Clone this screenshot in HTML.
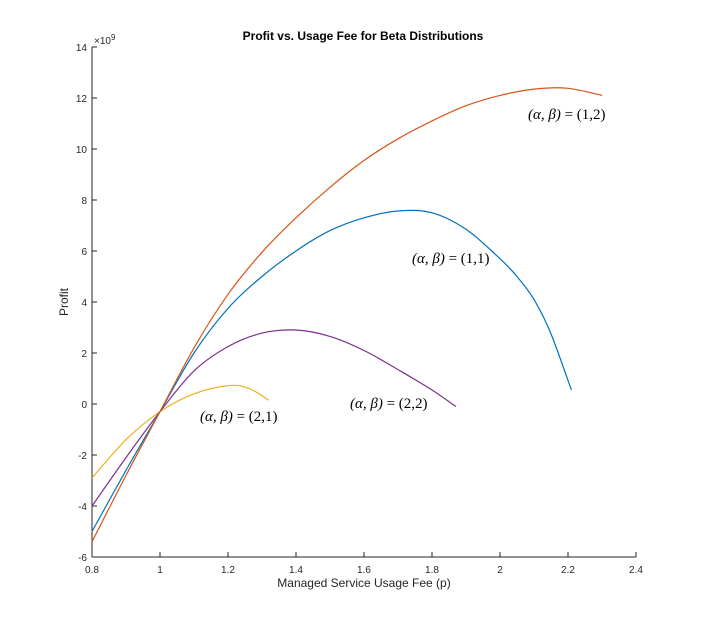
<!DOCTYPE html>
<html><head><meta charset="utf-8"><style>
body{margin:0;background:#fff;}
svg text{font-family:"Liberation Sans",sans-serif;}
.lab{font-family:"Liberation Serif",serif;font-size:15px;fill:#000;}
</style></head><body>
<svg id="chart" width="703" height="626" xmlns="http://www.w3.org/2000/svg">
<rect width="703" height="626" fill="#fff"/>
<text x="363" y="40" text-anchor="middle" font-size="12" font-weight="bold">Profit vs. Usage Fee for Beta Distributions</text>
<g id="axes"></g>
<g id="series"></g>
<text x="364" y="587" text-anchor="middle" font-size="12" fill="#262626">Managed Service Usage Fee (p)</text>
<text transform="translate(68,302) rotate(-90)" text-anchor="middle" font-size="12" fill="#262626">Profit</text>
<text x="94" y="44" font-size="10" fill="#262626">×10<tspan dy="-4" font-size="8">9</tspan></text>
<text class="lab" x="528" y="119"><tspan font-style="italic">(α, β)</tspan> = (1,2)</text>
<text class="lab" x="412" y="263"><tspan font-style="italic">(α, β)</tspan> = (1,1)</text>
<text class="lab" x="350" y="408"><tspan font-style="italic">(α, β)</tspan> = (2,2)</text>
<text class="lab" x="200" y="421"><tspan font-style="italic">(α, β)</tspan> = (2,1)</text>
</svg>
<script>
const xTicks=[0.8,1,1.2,1.4,1.6,1.8,2,2.2,2.4];
const yTicks=[-6,-4,-2,0,2,4,6,8,10,12,14];
const x12=[0.8,0.9,1.0,1.1,1.2,1.3,1.4,1.5,1.6,1.7,1.8,1.9,2.0,2.1,2.2,2.3];
const y12=[-5.4,-2.8,-0.3,2.2,4.3,5.95,7.3,8.5,9.55,10.4,11.1,11.7,12.1,12.35,12.38,12.1];
const x11=[0.8,0.9,1.0,1.1,1.2,1.3,1.4,1.5,1.6,1.7,1.8,1.9,2.0,2.05,2.1,2.15,2.21];
const y11=[-5.0,-2.6,-0.3,2.0,3.75,5.0,6.0,6.8,7.3,7.57,7.5,6.85,5.7,5.0,4.1,2.75,0.55];
const x22=[0.8,0.9,1.0,1.1,1.2,1.3,1.4,1.5,1.6,1.7,1.8,1.87];
const y22=[-4.0,-2.1,-0.3,1.3,2.25,2.78,2.9,2.65,2.1,1.35,0.55,-0.1];
const x21=[0.8,0.9,1.0,1.1,1.2,1.26,1.32];
const y21=[-2.9,-1.4,-0.3,0.4,0.72,0.62,0.15];
const NS="http://www.w3.org/2000/svg";
const X=v=>92+(v-0.8)*340, Y=v=>557-(v+6)*25.5;
const ax=document.getElementById('axes'), se=document.getElementById('series');
function mk(tag,at,p){const e=document.createElementNS(NS,tag);for(const k in at)e.setAttribute(k,at[k]);p.appendChild(e);return e;}
const xa=mk('path',{d:`M92,${Y(-6)}H${X(2.4)}`,stroke:'#262626',fill:'none'},ax);


const ya=mk('path',{d:`M92,${Y(14)}V${Y(-6)}`,stroke:'#262626',fill:'none'},ax);


xTicks.forEach(t=>{mk('path',{d:`M${X(t)},557v-5`,stroke:'#262626'},ax);
const tx=mk('text',{x:X(t),y:573,'text-anchor':'middle','font-size':'10',fill:'#262626'},ax);tx.textContent=String(t);

});
yTicks.forEach(t=>{mk('path',{d:`M92,${Y(t)}h5`,stroke:'#262626'},ax);
const tx=mk('text',{x:87,y:Y(t)+4,'text-anchor':'end','font-size':'10',fill:'#262626'},ax);tx.textContent=String(t);

});
function line(xs,ys,c,name){
const P=xs.map((v,i)=>[X(v),Y(ys[i])]);
let d='M'+P[0][0].toFixed(1)+','+P[0][1].toFixed(1);
for(let i=0;i<P.length-1;i++){const p0=P[Math.max(0,i-1)],p1=P[i],p2=P[i+1],p3=P[Math.min(P.length-1,i+2)];
const c1=[p1[0]+(p2[0]-p0[0])/6,p1[1]+(p2[1]-p0[1])/6],c2=[p2[0]-(p3[0]-p1[0])/6,p2[1]-(p3[1]-p1[1])/6];
d+=`C${c1[0].toFixed(1)},${c1[1].toFixed(1)} ${c2[0].toFixed(1)},${c2[1].toFixed(1)} ${p2[0].toFixed(1)},${p2[1].toFixed(1)}`;}
const p=mk('path',{d:d,stroke:c,fill:'none','stroke-width':'1.2'},se);

}
line(x21,y21,'#EDB120','line-2-1');
line(x22,y22,'#7E2F8E','line-2-2');
line(x11,y11,'#0072BD','line-1-1');
line(x12,y12,'#D95319','line-1-2');
</script>
</body></html>
